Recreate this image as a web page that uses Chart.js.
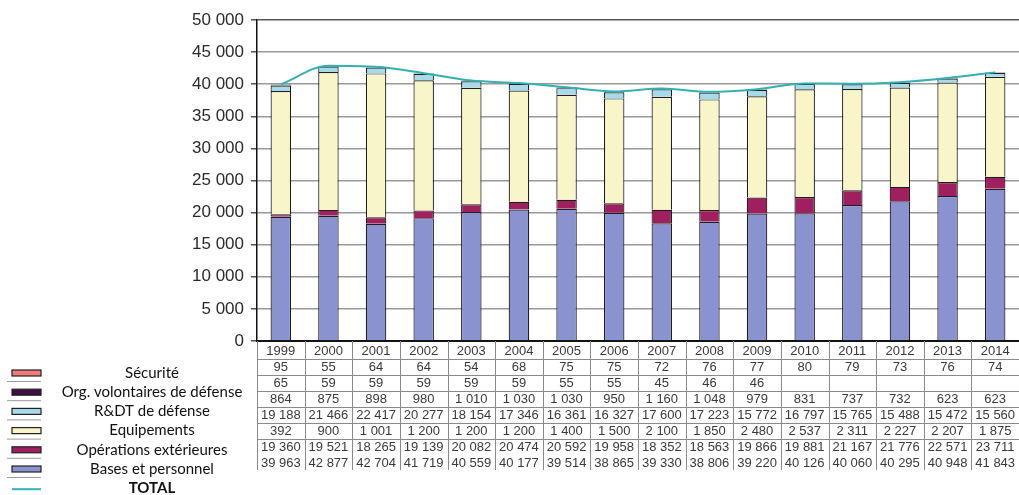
<!DOCTYPE html>
<html>
<head>
<meta charset="utf-8">
<script src="https://cdn.jsdelivr.net/npm/chart.js@4"></script>
<style>
  html, body { margin: 0; padding: 0; background: #fff; }
  #wrap { width: 1019px; height: 495px; }
</style>
</head>
<body>
<div id="wrap"><canvas id="graph" width="1019" height="495"></canvas></div>
<script>
// années
var annees = ['1999','2000','2001','2002','2003','2004','2005','2006','2007','2008','2009','2010','2011','2012','2013','2014'];
// séries (empilées du bas vers le haut)
var bases        = [19360,19521,18265,19139,20082,20474,20592,19958,18352,18563,19866,19881,21167,21776,22571,23711];
var opex         = [392,900,1001,1200,1200,1200,1400,1500,2100,1850,2480,2537,2311,2227,2207,1875];
var equipements  = [19188,21466,22417,20277,18154,17346,16361,16327,17600,17223,15772,16797,15765,15488,15472,15560];
var rdt          = [864,875,898,980,1010,1030,1030,950,1160,1048,979,831,737,732,623,623];
var orgVolont    = [65,59,59,59,59,59,55,55,45,46,46,null,null,null,null,null];
var securite     = [95,55,64,64,54,68,75,75,72,76,77,80,79,73,76,74];
var total        = [39963,42877,42704,41719,40559,40177,39514,38865,39330,38806,39220,40126,40060,40295,40948,41843];
var yTicks       = [0,5000,10000,15000,20000,25000,30000,35000,40000,45000,50000];

// couleurs
var cBases = '#8a92d0', cOpex = '#a01f5e', cEquip = '#f8f6c9', cRdt = '#a8dbe9';
var cOrg = '#3d0f42', cSecu = '#f07a7a', cTotal = '#35b0b0';

// lignes du tableau (ordre d'affichage)
var lignes = [
    { nom: 'Sécurité', data: securite, coul: cSecu },
    { nom: 'Org. volontaires de défense', data: orgVolont, coul: cOrg },
    { nom: 'R&DT de défense', data: rdt, coul: cRdt },
    { nom: 'Equipements', data: equipements, coul: cEquip },
    { nom: 'Opérations extérieures', data: opex, coul: cOpex },
    { nom: 'Bases et personnel', data: bases, coul: cBases },
    { nom: 'TOTAL', data: total, coul: cTotal, ligne: true }
];

function fmt(v) {
    if (v === null || v === undefined) return '';
    return String(v).replace(/\B(?=(\d{3})+(?!\d))/g, ' ');
}

// tableau de données + légende sous le graphique
var tablePlugin = {
    id: 'tableDonnees',
    afterDraw: function(chart) {
        var ctx = chart.ctx;
        var x = chart.scales.x;
        var n = annees.length;
        var w = (x.right - x.left) / n;
        var top = chart.chartArea.bottom;
        var y0 = 351, pas = 16;
        ctx.save();
        // traits horizontaux
        ctx.strokeStyle = '#8a8a8a';
        ctx.lineWidth = 1;
        for (var r = 1; r < 7; r++) {
            var yl = Math.round(y0 + pas * r - 8) + 0.5;
            ctx.beginPath();
            ctx.moveTo(x.left, yl);
            ctx.lineTo(x.right, yl);
            ctx.stroke();
        }
        // traits verticaux
        for (var i = 0; i <= n; i++) {
            var xl = Math.round(x.left + w * i) + 0.5;
            ctx.beginPath();
            ctx.moveTo(xl, top);
            ctx.lineTo(xl, 470);
            ctx.stroke();
        }
        // textes
        ctx.fillStyle = '#3a3a3a';
        ctx.font = '13px "Liberation Sans", Arial, sans-serif';
        ctx.textAlign = 'center';
        ctx.textBaseline = 'middle';
        annees.forEach(function(a, i) {
            var cx = x.getPixelForValue(i);
            ctx.fillText(a, cx, y0);
            lignes.forEach(function(l, r) {
                ctx.fillText(fmt(l.data[i]), cx, y0 + pas * (r + 1));
            });
        });
        // légende
        var ly0 = 373, lpas = 19.2;
        lignes.forEach(function(l, r) {
            var yy = ly0 + lpas * r;
            ctx.strokeStyle = '#9a9a9a';
            ctx.lineWidth = 1;
            if (l.ligne) {
                ctx.strokeStyle = l.coul;
                ctx.lineWidth = 2;
                ctx.beginPath();
                ctx.moveTo(12, yy + 1);
                ctx.lineTo(41, yy + 1);
                ctx.stroke();
            } else {
                ctx.beginPath();
                ctx.moveTo(7, yy + 8.5);
                ctx.lineTo(41, yy + 8.5);
                ctx.stroke();
                ctx.fillStyle = l.coul;
                ctx.fillRect(12, yy - 3, 29, 6);
                ctx.strokeStyle = '#222';
                ctx.lineWidth = 1.2;
                ctx.strokeRect(12, yy - 3, 29, 6);
            }
            ctx.fillStyle = '#111';
            ctx.font = (l.ligne ? 'bold ' : '') + '15px Lato, "Open Sans", sans-serif';
            ctx.fillText(l.nom, 152, yy);
        });
        ctx.restore();
    }
};

function barres(label, data, coul) {
    return {
        type: 'bar',
        label: label,
        data: data,
        backgroundColor: coul,
        borderColor: '#1e1e1e',
        borderWidth: 1.2,
        stack: 'budget',
        order: 1,
        categoryPercentage: 1,
        barPercentage: 0.43
    };
}

var ctx = document.getElementById('graph').getContext('2d');
var myChart = new Chart(ctx, {
    data: {
        labels: annees,
        datasets: [
            barres('Bases et personnel', bases, cBases),
            barres('Opérations extérieures', opex, cOpex),
            barres('Equipements', equipements, cEquip),
            barres('R&DT de défense', rdt, cRdt),
            barres('Org. volontaires de défense', orgVolont, cOrg),
            barres('Sécurité', securite, cSecu),
            {
                type: 'line',
                label: 'TOTAL',
                data: total,
                borderColor: cTotal,
                borderWidth: 2,
                pointRadius: 0,
                cubicInterpolationMode: 'monotone',
                fill: false,
                stack: 'total',
                order: 0
            }
        ]
    },
    options: {
        responsive: false,
        animation: false,
        layout: { padding: { top: 20, right: 0, left: 0, bottom: 0 } },
        plugins: {
            legend: { display: false },
            tooltip: { enabled: false },
            title: { display: false }
        },
        scales: {
            x: {
                stacked: true,
                grid: { display: false, drawTicks: false },
                border: { display: true, color: '#111', width: 2 },
                ticks: { display: false },
                afterFit: function(s) { s.height = 154; }
            },
            y: {
                stacked: true,
                min: 0,
                max: 50000,
                afterBuildTicks: function(s) { s.ticks = yTicks.map(function(v) { return { value: v }; }); },
                afterFit: function(s) { s.width = 257; },
                grid: {
                    color: function(c) { return c.tick && c.tick.value === 50000 ? '#555' : '#9a9a9a'; },
                    lineWidth: 1.5,
                    tickLength: 6,
                    tickColor: '#555'
                },
                border: { display: true, color: '#111', width: 1.5 },
                ticks: {
                    color: '#2a2a2a',
                    padding: 7,
                    font: { family: '"Liberation Sans", Arial, sans-serif', size: 17 },
                    callback: function(v) { return fmt(v); }
                }
            }
        }
    },
    plugins: [tablePlugin]
});
</script>
</body>
</html>
